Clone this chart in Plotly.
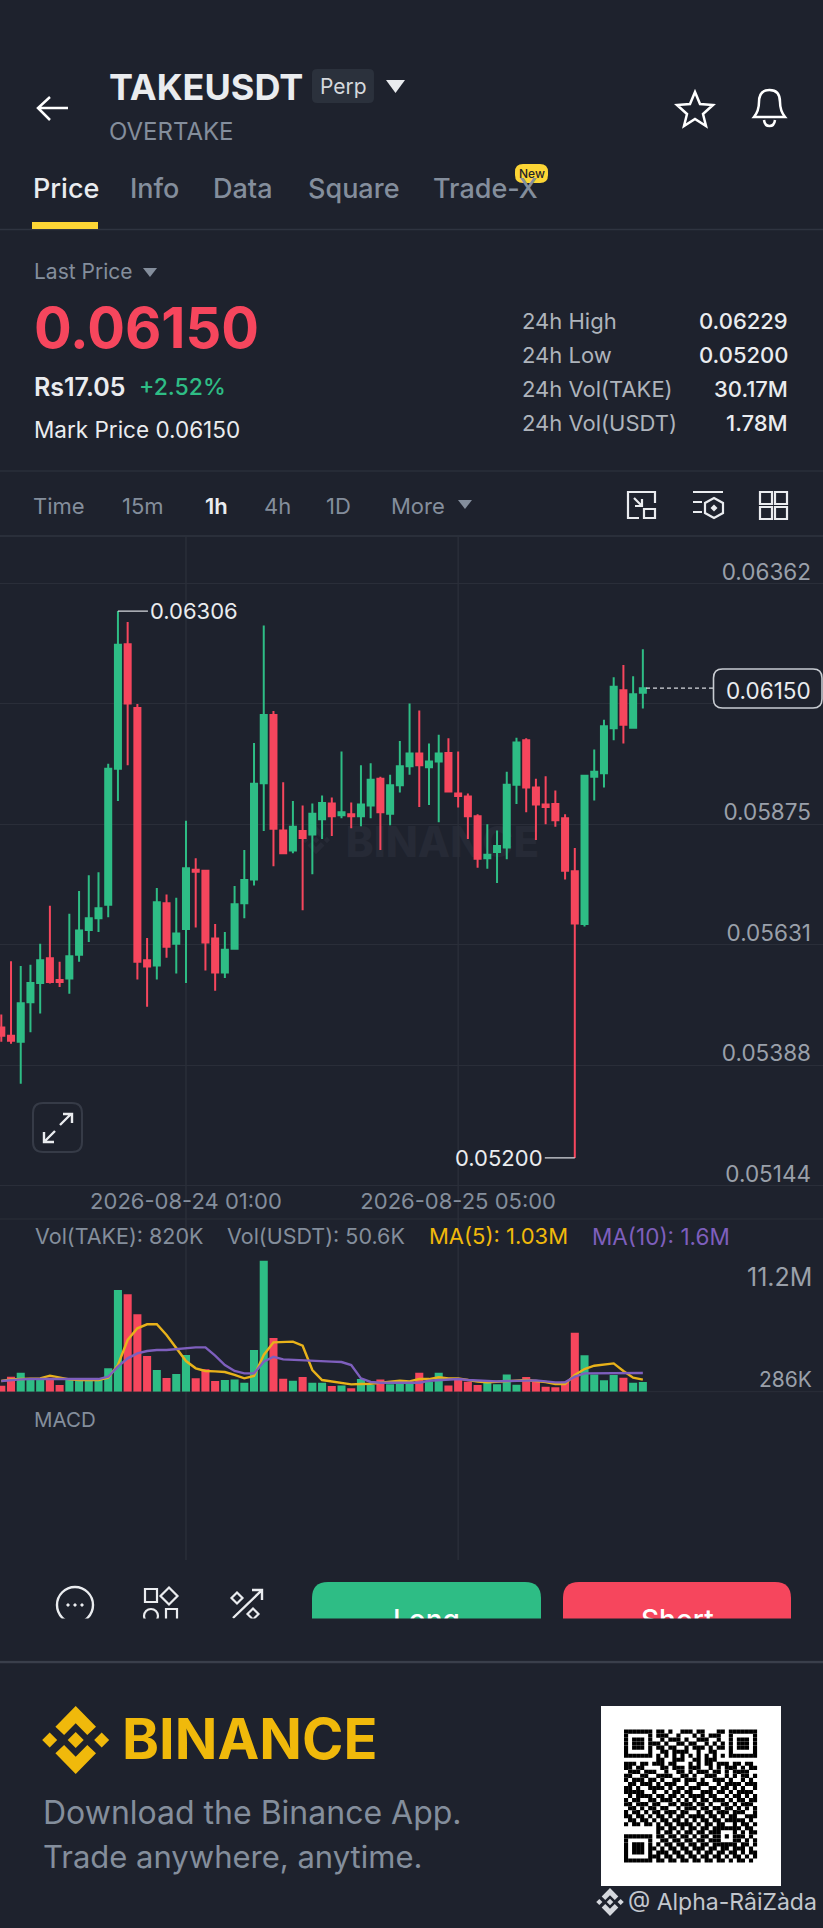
import re

import pandas as pd
import plotly.graph_objects as go

W, H = 823, 1928
BG = "#1e222d"
GRID = "#2a2e39"
GREY = "#848e9c"
LIGHT = "#eaecef"
GREEN = "#2ebd85"
RED = "#f6465d"
GOLD = "#f0b90b"

times = pd.date_range("2026-08-23 06:00", periods=67, freq="h")

opens = [0.05464, 0.05447, 0.05435, 0.05515, 0.05554, 0.05604, 0.05560, 0.05563, 0.05611, 0.05661,
         0.05685, 0.05712, 0.05987, 0.06239, 0.06110, 0.05600, 0.05589, 0.05715, 0.05633, 0.05663,
         0.05783, 0.05781, 0.05644, 0.05575, 0.05623, 0.05715, 0.05763, 0.05958, 0.06096, 0.05862,
         0.05822, 0.05861, 0.05854, 0.05885, 0.05917, 0.05893, 0.05895, 0.05891, 0.05913, 0.05967,
         0.05896, 0.05954, 0.05992, 0.06018, 0.05990, 0.06002, 0.06019, 0.05937, 0.05931, 0.05891,
         0.05806, 0.05819, 0.05828, 0.05955, 0.06045, 0.05949, 0.05915, 0.05916, 0.05887, 0.05780,
         0.05673, 0.05971, 0.05978, 0.06069, 0.06146, 0.06070, 0.06141]
highs = [0.05490, 0.05598, 0.05588, 0.05591, 0.05633, 0.05710, 0.05597, 0.05694, 0.05740, 0.05772,
         0.05778, 0.05997, 0.06306, 0.06284, 0.06118, 0.05645, 0.05746, 0.05733, 0.05726, 0.05882,
         0.05806, 0.05783, 0.05673, 0.05657, 0.05750, 0.05823, 0.06039, 0.06277, 0.06104, 0.05960,
         0.05922, 0.05913, 0.05917, 0.05933, 0.05929, 0.06022, 0.05919, 0.05994, 0.05998, 0.05971,
         0.05975, 0.06043, 0.06119, 0.06105, 0.06038, 0.06056, 0.06049, 0.06022, 0.05937, 0.05895,
         0.05875, 0.05862, 0.05981, 0.06050, 0.06049, 0.05967, 0.05972, 0.05943, 0.05895, 0.05827,
         0.05973, 0.06026, 0.06086, 0.06172, 0.06197, 0.06174, 0.06229]
lows = [0.05435, 0.05431, 0.05350, 0.05454, 0.05492, 0.05553, 0.05546, 0.05532, 0.05597, 0.05637,
        0.05657, 0.05687, 0.05922, 0.05994, 0.05561, 0.05506, 0.05561, 0.05605, 0.05573, 0.05554,
        0.05666, 0.05579, 0.05538, 0.05564, 0.05621, 0.05685, 0.05751, 0.05861, 0.05790, 0.05816,
        0.05816, 0.05701, 0.05774, 0.05845, 0.05851, 0.05887, 0.05867, 0.05871, 0.05887, 0.05823,
        0.05873, 0.05939, 0.05975, 0.05910, 0.05914, 0.05879, 0.05939, 0.05909, 0.05845, 0.05787,
        0.05785, 0.05756, 0.05804, 0.05916, 0.05899, 0.05843, 0.05875, 0.05870, 0.05763, 0.05200,
        0.05668, 0.05923, 0.05949, 0.06045, 0.06038, 0.06070, 0.06109]
closes = [0.05447, 0.05437, 0.05513, 0.05554, 0.05600, 0.05556, 0.05556, 0.05608, 0.05660, 0.05685,
          0.05705, 0.05987, 0.06238, 0.06119, 0.05597, 0.05587, 0.05717, 0.05627, 0.05654, 0.05786,
          0.05779, 0.05636, 0.05575, 0.05621, 0.05713, 0.05762, 0.05957, 0.06096, 0.05866, 0.05816,
          0.05870, 0.05847, 0.05896, 0.05918, 0.05891, 0.05899, 0.05891, 0.05915, 0.05965, 0.05899,
          0.05954, 0.05992, 0.06018, 0.05994, 0.06002, 0.06018, 0.05941, 0.05932, 0.05891, 0.05805,
          0.05813, 0.05831, 0.05955, 0.06040, 0.05949, 0.05915, 0.05910, 0.05883, 0.05781, 0.05674,
          0.05973, 0.05981, 0.06073, 0.06153, 0.06076, 0.06138, 0.06150]

# volume in millions
volumes = [0.51, 1.28, 1.62, 1.00, 1.00, 1.20, 0.57, 1.05, 0.91, 1.14, 1.05, 2.00, 8.69, 8.32, 6.61, 3.05, 1.85,
           1.17, 1.51, 3.14, 1.14, 1.91, 0.91, 1.00, 1.05, 0.77, 3.56, 11.2, 4.59, 1.11, 0.94, 1.25, 0.77, 0.77,
           0.48, 0.54, 0.29, 1.08, 0.57, 1.05, 0.63, 1.00, 0.71, 1.62, 0.86, 1.62, 0.54, 1.00, 0.86, 0.57, 0.86,
           0.63, 1.48, 0.60, 1.25, 0.86, 0.43, 0.37, 0.86, 5.04, 3.11, 1.48, 0.97, 1.43, 1.20, 0.77, 0.82]
ma5 = [0.91, 1.05, 1.08, 1.08, 1.14, 1.37, 1.20, 1.05, 1.00, 1.00, 1.00, 1.20, 2.28, 4.42, 5.42, 5.76, 5.76,
       4.85, 3.71, 2.62, 2.00, 1.77, 1.74, 1.68, 1.43, 1.14, 1.34, 3.14, 4.22, 4.28, 4.28, 3.93, 1.85, 1.00,
       0.86, 0.77, 0.63, 0.66, 0.68, 0.77, 0.83, 0.94, 0.88, 1.08, 1.08, 1.23, 1.14, 1.14, 1.00, 0.86, 0.80,
       0.86, 0.94, 1.00, 1.00, 0.91, 0.83, 0.66, 0.66, 1.43, 1.94, 2.22, 2.31, 2.42, 1.77, 1.20, 1.03]
ma10 = [0.91, 1.00, 1.05, 1.08, 1.08, 1.08, 1.08, 1.08, 1.08, 1.08, 1.08, 1.28, 2.14, 2.85, 3.28, 3.48, 3.56,
        3.56, 3.65, 3.76, 3.79, 3.79, 3.08, 2.28, 1.77, 1.57, 1.57, 2.57, 2.99, 2.76, 2.71, 2.68, 2.65, 2.59,
        2.57, 2.54, 2.28, 1.14, 0.83, 0.77, 0.77, 0.77, 0.77, 0.77, 0.94, 1.00, 1.05, 1.08, 1.00, 0.94, 0.88,
        0.88, 0.91, 0.94, 0.97, 0.97, 0.88, 0.80, 0.80, 1.28, 1.57, 1.57, 1.57, 1.57, 1.57, 1.57, 1.60]

price_ticks = [0.06362, 0.06119, 0.05875, 0.05631, 0.05388, 0.05144]
price_tick_text = ["0.06362", "", "0.05875", "0.05631", "0.05388", "0.05144"]
date_ticks = ["2026-08-24 01:00", "2026-08-25 05:00"]

# rough reading of the qr code, finder squares get stamped on top
qr_rows = [
    "000000001101001110110001100000000", "000000001110010001010111000000000",
    "000000000101110100111001000000000", "000000011010011011001010100000000",
    "000000001101100101110101100000000", "000000000110111100100110000000000",
    "000000001010101010101010100000000", "000000001100111001101110000000000",
    "111011011101100010101101110110110", "110110000110111011100101011101011",
    "011101110010011010111011010111100", "110011001111001101001110010101101",
    "101110110100110111010011101001010", "011011101011100100111001011110111",
    "110100111101011011100110110101001", "111110010010110110011101101011110",
    "010111101101101011110110010110101", "101100110111010101011011101011011",
    "110111011001101110110100110101110", "011010110110010111011011011010101",
    "101101011011101100101101110111001", "110110101101011011110110101100111",
    "011011010110110101011011011111010", "101101101011011110101101100101101",
    "000000001101101011011011111110110", "000000001011010110110111000101011",
    "000000001101101101011011010111010", "000000000110110110110111000110101",
    "000000001011011011011011111101101", "000000010101101101110110110111010",
    "000000001110110110101101101101011", "000000011011011011011011010110101",
    "000000001101101101101101101011010",
]


def fx(x):
    return x / W


def fy(y):
    return 1 - y / H


def svg(d):
    # pixel path -> paper path
    out = []
    is_x = True
    for tok in d.split():
        if re.match(r"^[A-Za-z]$", tok):
            out.append(tok)
            is_x = True
        else:
            out.append(f"{fx(float(tok)):.5f}" if is_x else f"{fy(float(tok)):.5f}")
            is_x = not is_x
    return " ".join(out)


shapes = []
annotations = []


def stroke(d, color="#ffffff", w=2.5, fill=None, layer="above"):
    shapes.append(dict(type="path", xref="paper", yref="paper", path=svg(d), layer=layer,
                       line=dict(color=color, width=w), fillcolor=fill or "rgba(0,0,0,0)"))


def solid(d, color, layer="above"):
    shapes.append(dict(type="path", xref="paper", yref="paper", path=svg(d), layer=layer,
                       line=dict(width=0), fillcolor=color))


def hline(y, x0=0, x1=W, color=GRID, w=1):
    shapes.append(dict(type="line", xref="paper", yref="paper", x0=fx(x0), x1=fx(x1), y0=fy(y), y1=fy(y),
                       layer="below", line=dict(color=color, width=w)))


def rrect(x0, y0, x1, y1, r):
    return (f"M {x0+r} {y0} L {x1-r} {y0} Q {x1} {y0} {x1} {y0+r} L {x1} {y1-r} Q {x1} {y1} {x1-r} {y1} "
            f"L {x0+r} {y1} Q {x0} {y1} {x0} {y1-r} L {x0} {y0+r} Q {x0} {y0} {x0+r} {y0} Z")


def diamond(cx, cy, r):
    return f"M {cx} {cy-r} L {cx+r} {cy} L {cx} {cy+r} L {cx-r} {cy} Z"


def logo(cx, cy, s, color, layer="above"):
    # binance mark, s=1 is the 68px footer one
    solid(diamond(cx, cy, 8 * s), color, layer)
    solid(diamond(cx - 26 * s, cy, 7.5 * s), color, layer)
    solid(diamond(cx + 26 * s, cy, 7.5 * s), color, layer)
    for k in (-1, 1):
        pts = [(0, 34), (20.3, 13.3), (11.6, 5), (0, 16.7), (-11.6, 5), (-20.3, 13.3)]
        d = "M " + " L ".join(f"{cx+a*s} {cy+k*b*s}" for a, b in pts) + " Z"
        solid(d, color, layer)


def txt(x, y, s, size, color=GREY, anchor="left", weight=400, font="Inter"):
    annotations.append(dict(x=fx(x), y=fy(y), xref="paper", yref="paper", text=s, showarrow=False,
                            xanchor=anchor, yanchor="middle", borderpad=0, borderwidth=0,
                            font=dict(family=font, size=size, color=color, weight=weight)))


# header
stroke("M 68 108 L 39 108 M 50 97 L 38 108 L 50 120")
txt(109, 87, "TAKEUSDT", 36, LIGHT, weight=700)
solid(rrect(312, 69, 374, 103, 5), "#2b313c")
txt(343, 87, "Perp", 21, "#d5d8dd", "center")
solid("M 386 80 L 405 80 L 395.5 93 Z", LIGHT)
txt(109, 132, "OVERTAKE", 24, GREY)
stroke("M 695 92 L 700 104 L 713 105 L 703 114 L 706 126 L 695 119 L 684 126 L 687 114 L 677 105 L 690 104 Z", w=2.5)
stroke("M 754 117 C 758 112 759 108 759 102 C 759 94 763 90 769.5 90 C 776 90 780 94 780 102 "
       "C 780 108 781 112 785 117 Z M 764 120 C 765 128 774 128 775 120", w=2.5)

# tabs
txt(33, 189, "Price", 27, LIGHT, weight=500)
for label, xp in zip(["Info", "Data", "Square", "Trade-X"], [130, 213, 308, 433]):
    txt(xp, 189, label, 27, GREY, weight=500)
solid(rrect(515, 164, 548, 183, 8), "#fcd535")
txt(531.5, 173.5, "New", 12, "#1e2329", "center", 500)
solid("M 32 222 L 98 222 L 98 229 L 32 229 Z", "#fcd535")
hline(229.5, color="#2f3440", w=1.5)

# price block
txt(34, 272, "Last Price", 21, GREY)
solid("M 143 268 L 157 268 L 150 277 Z", GREY)
txt(34, 328, "0.06150", 56, RED, weight=700)
txt(34, 387, "Rs17.05", 25, LIGHT, weight=600)
txt(139, 387, "+2.52%", 23, GREEN, weight=500)
txt(34, 430, "Mark Price 0.06150", 22.5, LIGHT)
stat_labels = ["24h High", "24h Low", "24h Vol(TAKE)", "24h Vol(USDT)"]
stat_values = ["0.06229", "0.05200", "30.17M", "1.78M"]
for k, (a, b) in enumerate(zip(stat_labels, stat_values)):
    yy = 321 + k * 34
    txt(522, yy, a, 22, "#aeb4bc")
    txt(788, yy, b, 22, LIGHT, "right", 500)
hline(471, color="#2a2f3a", w=1.5)

# interval row
for label, xp, col, wt in [("Time", 33, GREY, 400), ("15m", 122, GREY, 400), ("1h", 205, LIGHT, 600),
                           ("4h", 264, GREY, 400), ("1D", 326, GREY, 400), ("More", 391, GREY, 400)]:
    txt(xp, 506, label, 22, col, weight=wt)
solid("M 458 500 L 472 500 L 465 509 Z", GREY)
stroke("M 639 518 L 628 518 L 628 492 L 655 492 L 655 503 M 634 498 L 642 506 M 642 499 L 642 506 L 635 506", LIGHT, 2.2)
stroke("M 644 509 L 655 509 L 655 518 L 644 518 Z", LIGHT, 2.2)
stroke("M 693 492 L 723 492 M 693 502 L 702 502 M 693 512 L 702 512", LIGHT, 2.2)
stroke("M 714 498 L 723 503 L 723 513 L 714 518 L 705 513 L 705 503 Z", LIGHT, 2.2)
solid(diamond(714, 508, 3.5), LIGHT)
for x0, y0 in [(760, 492), (775, 492), (760, 507), (775, 507)]:
    stroke(f"M {x0} {y0} L {x0+12} {y0} L {x0+12} {y0+12} L {x0} {y0+12} Z", LIGHT, 2.2)
hline(536, color="#2a2f3a", w=2)

# chart decorations
logo(316, 840, 0.42, "#262a36", "below")
shapes.append(dict(type="rect", xref="paper", yref="paper", x0=fx(340), x1=fx(545), y0=fy(860), y1=fy(820),
                   layer="below", line=dict(width=0), fillcolor="rgba(0,0,0,0)",
                   label=dict(text="BINANCE", font=dict(family="Inter", size=42, color="#262a36", weight=800),
                              textposition="middle center")))
for d in date_ticks:
    shapes.append(dict(type="line", xref="x", yref="paper", x0=d, x1=d, y0=fy(537), y1=fy(1560), layer="below",
                       line=dict(color=GRID, width=1.5)))
hline(1219)
hline(1391.7)

# last price line and tag
shapes.append(dict(type="line", xref="paper", yref="y", x0=fx(646), x1=fx(713), y0=closes[-1], y1=closes[-1],
                   layer="above", line=dict(color="#d5d8dd", width=1.2, dash="4px,3px")))
stroke(rrect(713.5, 669, 822, 708, 9), "#c8ccd2", 1.6, BG)
txt(768, 690, "0.06150", 22.5, LIGHT, "center")

# expand button
stroke(rrect(33, 1103, 82, 1152, 10), "#363b47", 2)
stroke("M 60 1125 L 71 1114 M 63 1114 L 72 1114 L 72 1123 M 55 1131 L 45 1141 M 44 1132 L 44 1142 L 54 1142", LIGHT, 2.4)

# volume legend and side labels
txt(35, 1236, "Vol(TAKE): 820K", 21.5, GREY)
txt(227, 1236, "Vol(USDT): 50.6K", 21.5, GREY)
txt(429, 1236, "MA(5): 1.03M", 22, GOLD)
txt(592, 1236, "MA(10): 1.6M", 22.5, "#7e5fbd")
txt(812, 1277, "11.2M", 25, "#9aa0aa", "right")
txt(812, 1379, "286K", 21, "#9aa0aa", "right")
txt(34, 1419, "MACD", 20.5, GREY)

# action bar, cut off at 1619 like the screenshot
shapes.append(dict(type="circle", xref="paper", yref="paper", x0=fx(57), x1=fx(93), y0=fy(1587), y1=fy(1623),
                   line=dict(color=LIGHT, width=2.4), fillcolor=BG))
for xp in (68, 75, 82):
    solid(diamond(xp, 1605, 2), LIGHT)
stroke("M 145 1589 L 157 1589 L 157 1602 L 145 1602 Z", LIGHT, 2.2)
stroke(diamond(169, 1596, 8.5), LIGHT, 2.2)
shapes.append(dict(type="circle", xref="paper", yref="paper", x0=fx(144), x1=fx(158), y0=fy(1609), y1=fy(1623),
                   line=dict(color=LIGHT, width=2.2), fillcolor="rgba(0,0,0,0)"))
stroke("M 166 1609 L 177 1609 L 177 1625 L 166 1625 Z", LIGHT, 2.2)
stroke(diamond(237, 1598, 5.5), LIGHT, 2.2)
stroke(diamond(253, 1614, 5.5), LIGHT, 2.2)
stroke("M 233 1618 L 262 1590 M 252 1590 L 262 1590 L 262 1600", LIGHT, 2.4)

solid("M 312 1625 L 312 1598 Q 312 1582 328 1582 L 525 1582 Q 541 1582 541 1598 L 541 1625 Z", GREEN)
solid("M 563 1625 L 563 1598 Q 563 1582 579 1582 L 775 1582 Q 791 1582 791 1598 L 791 1625 Z", RED)
txt(426.5, 1620, "Long", 28, "#ffffff", "center", 500)
txt(677, 1620, "Short", 28, "#ffffff", "center", 500)
annotations.append(dict(x=fx(411.5), y=fy(1639.5), xref="paper", yref="paper", text=" ", showarrow=False,
                        width=W, height=41, bgcolor=BG, xanchor="center", yanchor="middle", borderpad=0))
hline(1662, color="#3a3f4b", w=2.5)

# footer
logo(75.7, 1740, 1, GOLD)
txt(122, 1739, "BINANCE", 56, GOLD, weight=700)
txt(43, 1812, "Download the Binance App.", 32, GREY)
txt(43, 1856, "Trade anywhere, anytime.", 31, GREY)
solid("M 601 1706 L 781 1706 L 781 1886 L 601 1886 Z", "#ffffff")

cells = [list(r.ljust(33, "0")[:33]) for r in qr_rows]
for r0, c0 in [(0, 0), (0, 26), (26, 0)]:
    for r in range(7):
        for c in range(7):
            ring = r in (0, 6) or c in (0, 6)
            core = 2 <= r <= 4 and 2 <= c <= 4
            cells[r0 + r][c0 + c] = "1" if ring or core else "0"
m = 133 / 33
qr_path = []
for r, row in enumerate(cells):
    for c, v in enumerate(row):
        if v == "1":
            x0, y0 = 624 + c * m, 1729.5 + r * m
            qr_path.append(f"M {x0:.2f} {y0:.2f} L {x0+m+0.1:.2f} {y0:.2f} L {x0+m+0.1:.2f} {y0+m+0.1:.2f} L {x0:.2f} {y0+m+0.1:.2f} Z")
solid(" ".join(qr_path), "#000000")

logo(610, 1902, 0.41, "#d5d8dd")
txt(628, 1902, "@ Alpha-RâiZàda", 23, "#c3c7ce")

# high / low callouts
annotations.append(dict(x=times[12], y=highs[12], xref="x", yref="y", text="0.06306", showarrow=True, arrowhead=0,
                        arrowwidth=1.2, arrowcolor="#d5d8dd", ax=30, ay=0, xanchor="left", yanchor="middle",
                        font=dict(family="Inter", size=22, color=LIGHT)))
annotations.append(dict(x=times[59], y=lows[59], xref="x", yref="y", text="0.05200", showarrow=True, arrowhead=0,
                        arrowwidth=1.2, arrowcolor="#d5d8dd", ax=-30, ay=0, xanchor="right", yanchor="middle",
                        font=dict(family="Inter", size=22, color=LIGHT)))

fig = go.Figure()
fig.add_trace(go.Candlestick(x=times, open=opens, high=highs, low=lows, close=closes, whiskerwidth=0,
                             increasing=dict(line=dict(color=GREEN, width=2), fillcolor=GREEN),
                             decreasing=dict(line=dict(color=RED, width=2), fillcolor=RED),
                             xaxis="x", yaxis="y"))
bar_colors = [GREEN if c >= o else RED for o, c in zip(opens, closes)]
fig.add_trace(go.Bar(x=times, y=volumes, marker=dict(color=bar_colors, line=dict(width=0)), xaxis="x", yaxis="y2"))
fig.add_trace(go.Scatter(x=times, y=ma5, mode="lines", line=dict(color="#e8b21a", width=2.4), xaxis="x", yaxis="y2"))
fig.add_trace(go.Scatter(x=times, y=ma10, mode="lines", line=dict(color="#7e5fbd", width=2.4), xaxis="x", yaxis="y2"))

# y domain runs a bit past the last grid line so the 0.05144 label isn't dropped
fig.update_layout(
    width=W, height=H, autosize=False, margin=dict(l=0, r=0, t=0, b=0), showlegend=False,
    paper_bgcolor=BG, plot_bgcolor="rgba(0,0,0,0)", font=dict(family="Inter", color=GREY),
    boxgap=0.38, boxgroupgap=0, bargap=0.17,
    xaxis=dict(domain=[0, 1], type="date", range=["2026-08-23 05:52", "2026-08-26 18:32"], anchor="free",
               position=fy(1186), rangeslider=dict(visible=False), showgrid=False, zeroline=False, showline=False,
               tickmode="array", tickvals=date_ticks, ticktext=date_ticks, ticks="", ticklabelstandoff=0,
               tickfont=dict(family="Inter", size=22, color=GREY)),
    yaxis=dict(domain=[fy(1200), fy(537)], range=[0.05115, 0.064558], side="right", anchor="x",
               tickmode="array", tickvals=price_ticks, ticktext=price_tick_text, gridcolor=GRID, gridwidth=1,
               zeroline=False, showline=False, ticklabelposition="inside top", ticklabelstandoff=9,
               ticklabelshift=4, tickfont=dict(family="Inter", size=22.5, color="#9aa0aa")),
    yaxis2=dict(domain=[fy(1391.7), fy(1219)], range=[0, 14.76], anchor="x", showgrid=False, zeroline=False,
                showticklabels=False, showline=False),
    shapes=shapes, annotations=annotations,
)

# the page has an 8px body margin otherwise
fig.write_html("out.html", config={"displayModeBar": False},
               post_script="document.body.style.margin='0';document.body.style.background='" + BG + "';")
